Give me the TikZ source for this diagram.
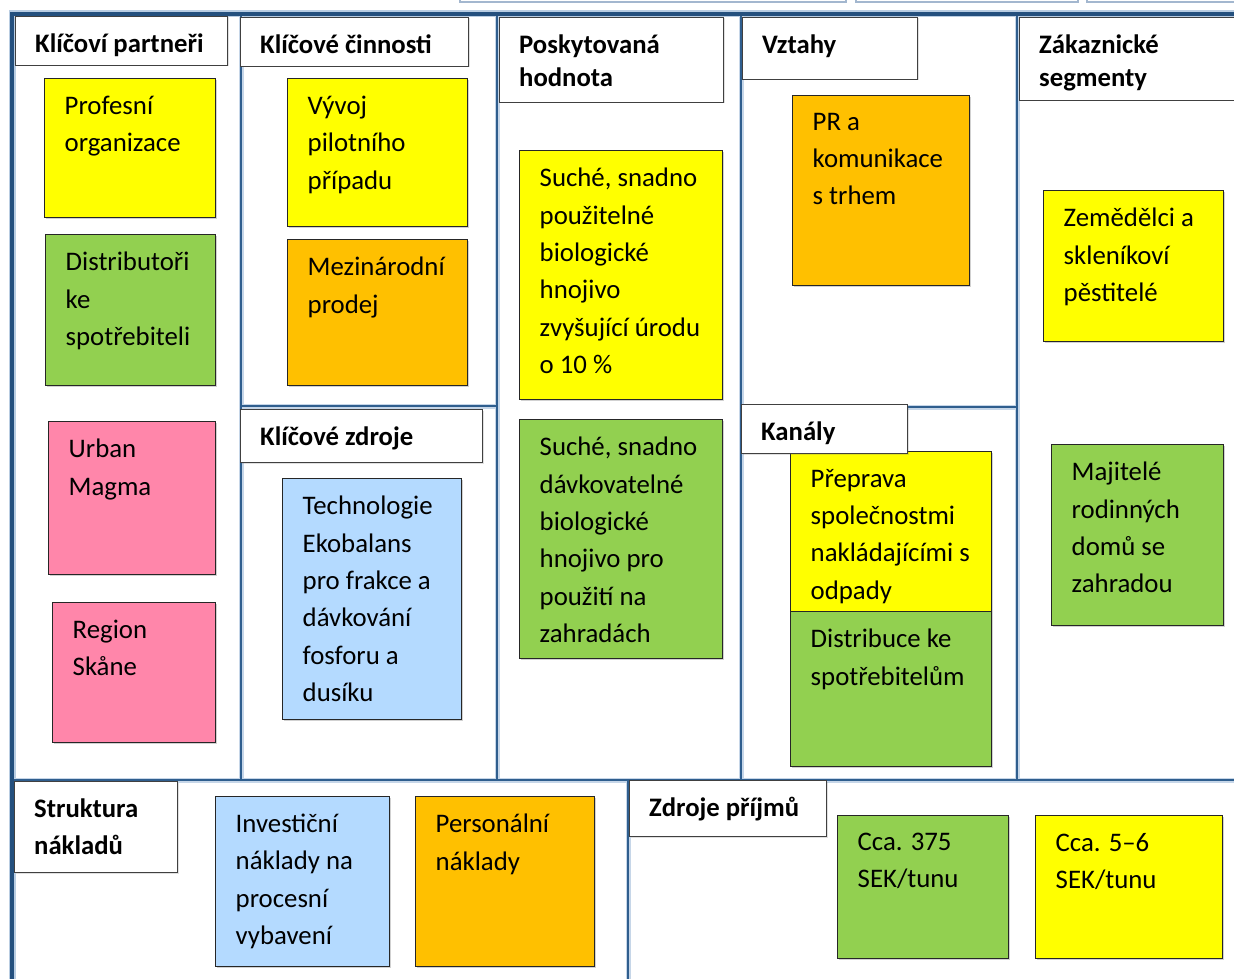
\documentclass[tikz,border=0pt]{standalone}
\usepackage{fontspec}
\setmainfont{Carlito}
\usetikzlibrary{shadows}

\definecolor{frameblue}{HTML}{24507E}
\definecolor{framehalo}{HTML}{B9CDE2}
\definecolor{lineblue}{HTML}{2F5E8E}
\definecolor{linehalo}{HTML}{C6D6E8}
\definecolor{stripline}{HTML}{A3B7CF}
\definecolor{pyellow}{HTML}{FFFF00}
\definecolor{pgreen}{HTML}{92D050}
\definecolor{porange}{HTML}{FFC000}
\definecolor{ppink}{HTML}{FF86AA}
\definecolor{pblue}{HTML}{B4DAFF}
\definecolor{noteedge}{HTML}{262626}
\definecolor{headedge}{HTML}{404040}

\tikzset{
  framecore/.style={line width=3.5pt, draw=frameblue},
  framesoft/.style={line width=7pt, draw=framehalo},
  gridcore/.style={line width=2pt, draw=lineblue},
  gridsoft/.style={line width=5pt, draw=linehalo},
  note/.style={draw=noteedge, line width=0.9pt, anchor=north west, inner sep=0pt,
    drop shadow={shadow xshift=1.5pt, shadow yshift=-1.5pt, opacity=0.3, fill=black!60}},
  notetext/.style={anchor=north west, inner sep=0pt, align=left,
    font=\fontsize{26.8}{37.4}\selectfont, execute at begin node={\rule{0pt}{26.2pt}}},
  headbox/.style={draw=headedge, fill=white, line width=1pt, anchor=north west, inner sep=0pt,
    drop shadow={shadow xshift=1pt, shadow yshift=-1pt, opacity=0.2, fill=black!60}},
  headtext/.style={anchor=north west, inner sep=0pt, align=left,
    execute at begin node={\rule{0pt}{24pt}}},
}

% sticky note: name, left, top, right, bottom, colour, text
\newcommand\postit[7]{%
  \node[note, fill=#6, minimum width=#4-#2, minimum height=#5-#3] (#1) at (#2,#3) {};
  \node[notetext] (#1-t) at (#2+20.5,#3+17.8) {#7};
}
% block heading: [line spacing] name, left, top, right, bottom, text offset, text
\newcommand\heading[8][33]{%
  \node[headbox, minimum width=#5-#3, minimum height=#6-#4] (#2) at (#3,#4) {};
  \node[headtext, font=\bfseries\fontsize{26.7}{#1}\selectfont] (#2-t) at (#3+20,#4+#7) {#8};
}

\begin{document}
\begin{tikzpicture}[x=1pt,y=-1pt]
\useasboundingbox (0,0) rectangle (1234,979);
\clip (0,0) rectangle (1234,979);

% tabs of the row above, cut by the page edge
\draw[stripline, line width=1.5pt, fill=white] (460,-10) rectangle (846,2);
\draw[stripline, line width=1.5pt, fill=white] (856,-10) rectangle (1078,2);
\draw[stripline, line width=1.5pt, fill=white] (1087,-10) rectangle (1245,2);

% canvas frame and block dividers
\draw[framesoft] (12,995) -- (12,14) -- (1245,14);
\draw[gridsoft] (241,14) -- (241,780);
\draw[gridsoft] (497,14) -- (497,780);
\draw[gridsoft] (741,14) -- (741,780);
\draw[gridsoft] (1017,14) -- (1017,780);
\draw[gridsoft] (241,406) -- (497,406);
\draw[gridsoft] (741,407) -- (1017,407);
\draw[gridsoft] (12,780) -- (1245,780);
\draw[gridsoft] (628,780) -- (628,995);

\draw[gridcore] (241,14) -- (241,780);
\draw[gridcore] (497,14) -- (497,780);
\draw[gridcore] (741,14) -- (741,780);
\draw[gridcore] (1017,14) -- (1017,780);
\draw[gridcore] (241,406) -- (497,406);
\draw[gridcore] (741,407) -- (1017,407);
\draw[gridcore] (12,780) -- (1245,780);
\draw[gridcore] (628,780) -- (628,995);
\draw[framecore] (12,995) -- (12,14) -- (1245,14);

% sticky notes
\postit{pro}{44}{78}{215}{217}{pyellow}{Profesní\\organizace}
\postit{dis}{45}{234}{215}{385}{pgreen}{Distributoři\\ke\\spotřebiteli}
\postit{urb}{48}{421}{215}{574}{ppink}{Urban\\Magma}
\postit{reg}{52}{602}{215}{742}{ppink}{Region\\Skåne}
\postit{vyv}{287}{78}{467}{226}{pyellow}{Vývoj\\pilotního\\případu}
\postit{mez}{287}{239}{467}{385}{porange}{Mezinárodní\\prodej}
\postit{tec}{282}{478}{461}{719}{pblue}{Technologie\\Ekobalans\\pro frakce a\\dávkování\\fosforu a\\dusíku}
\postit{suc}{519}{150}{722}{399}{pyellow}{Suché, snadno\\použitelné\\biologické\\hnojivo\\zvyšující úrodu\\o 10 \%}
\postit{sud}{519}{419}{722}{658}{pgreen}{Suché, snadno\\dávkovatelné\\biologické\\hnojivo pro\\použití na\\zahradách}
\postit{prk}{792}{95}{969}{285}{porange}{PR a\\komunikace\\s trhem}
\postit{pre}{790}{451}{991}{611}{pyellow}{Přeprava\\společnostmi\\nakládajícími s\\odpady}
\postit{dst}{790}{611}{991}{766}{pgreen}{Distribuce ke\\spotřebitelům}
\postit{zem}{1043}{190}{1223}{341}{pyellow}{Zemědělci a\\skleníkoví\\pěstitelé}
\postit{maj}{1051}{444}{1223}{625}{pgreen}{Majitelé\\rodinných\\domů se\\zahradou}
\postit{inv}{215}{796}{389}{966}{pblue}{Investiční\\náklady na\\procesní\\vybavení}
\postit{per}{415}{796}{594}{966}{porange}{Personální\\náklady}
\postit{cb}{837}{815}{1008}{958}{pgreen}{Cca. 375\\SEK/tunu}
\postit{cs}{1035}{815}{1222}{958}{pyellow}{Cca. 5–6\\SEK/tunu}

% block headings
\heading{hkp}{15}{16}{227}{65}{12}{Klíčoví partneři}
\heading{hkc}{240}{17}{468}{66}{12}{Klíčové činnosti}
\heading{hph}{499}{17}{723}{102}{17.5}{Poskytovaná\\hodnota}
\heading{hvz}{742}{17}{917}{79}{12.5}{Vztahy}
\heading{hzs}{1019}{17}{1245}{100}{17.5}{Zákaznické\\segmenty}
\heading{hkz}{240}{409}{482}{462}{12.5}{Klíčové zdroje}
\heading{hka}{741}{404}{907}{453}{12.5}{Kanály}
\heading[37]{hsn}{14}{781}{177}{872}{17.5}{Struktura\\nákladů}
\heading{hzp}{629}{780}{826}{836}{12.5}{Zdroje příjmů}
\end{tikzpicture}
\end{document}
